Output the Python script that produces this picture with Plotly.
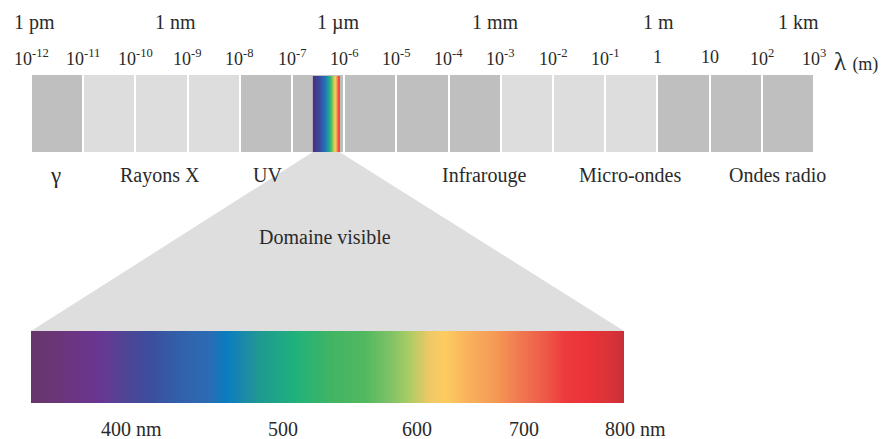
import numpy as np
import plotly.graph_objects as go

# ---------------- data ----------------
exponents = list(range(-12, 4))            # decade boundaries 10^-12 ... 10^3 (m)
exp_labels = ["10<sup>-12</sup>", "10<sup>-11</sup>", "10<sup>-10</sup>", "10<sup>-9</sup>",
              "10<sup>-8</sup>", "10<sup>-7</sup>", "10<sup>-6</sup>", "10<sup>-5</sup>",
              "10<sup>-4</sup>", "10<sup>-3</sup>", "10<sup>-2</sup>", "10<sup>-1</sup>",
              "1", "10", "10<sup>2</sup>", "10<sup>3</sup>"]
cell_shade = [1, 0, 0, 0, 1, 1, 1, 1, 1, 0, 0, 0, 1, 1, 1]   # 1 = dark grey, 0 = light grey
unit_labels = ["1 pm", "1 nm", "1 µm", "1 mm", "1 m", "1 km"]
unit_pos = [-11.94, -9.24, -6.10, -3.11, 0.02, 2.71]
band_labels = ["γ", "Rayons X", "UV", "Infrarouge", "Micro-ondes", "Ondes radio"]
band_pos = [-11.54, -9.53, -7.46, -3.32, -0.52, 2.31]
visible_range = [-6.60, -6.09]             # log10(m) extent of the visible strip in the bar
nm_labels = ["400 nm", "500", "600", "700", "800 nm"]
nm_pos = [0.169, 0.425, 0.651, 0.831, 1.019]  # position along the spectrum strip

# ---------------- styles ----------------
DARK, LIGHT, TRAP = "#bfbfbf", "#dddddd", "#dedede"
TXT = "#2a2a2a"
FONT = "Liberation Serif"
PAGE_W, PAGE_H = 889, 439
OFF = 8                      # default body margin of the page
W, H = PAGE_W - OFF, PAGE_H - OFF
X0, PXU = 31.0, 52.2         # page pixel of 10^-12 and pixels per decade
SP_L, SP_R = 31.0, 624.0

def px2e(px):
    return -12 + (px - X0) / PXU

spec_scale = [
    [0.000, "#66366a"], [0.024, "#6a3672"], [0.066, "#6c3580"], [0.108, "#6a3590"],
    [0.125, "#663a95"], [0.159, "#4f4595"], [0.201, "#3d4d9d"], [0.226, "#3658a5"],
    [0.268, "#3065ad"], [0.302, "#2a6cb4"], [0.330, "#0a7dc0"], [0.361, "#1c8aa6"],
    [0.386, "#1e9a92"], [0.445, "#1fb27c"], [0.504, "#40b464"], [0.563, "#52b860"],
    [0.605, "#7dc265"], [0.639, "#aecc65"], [0.673, "#efc866"], [0.698, "#fdcc60"],
    [0.740, "#f8b05c"], [0.782, "#f59a55"], [0.825, "#f07850"], [0.867, "#ee5a48"],
    [0.900, "#ec3a3c"], [0.943, "#e93238"], [0.976, "#d93338"], [1.000, "#c93038"],
]
top_scale = [
    [0.00, "#4b2f7e"], [0.25, "#3a4a9e"], [0.45, "#1f74bd"], [0.55, "#1b9aa0"],
    [0.65, "#3bb56a"], [0.75, "#a8cc5e"], [0.82, "#f8d060"], [0.88, "#f39a55"],
    [0.93, "#ee5040"], [1.00, "#e8383a"],
]

fig = go.Figure()

# grey decade cells (heatmap so the visible strip can sit on top of it)
fig.add_trace(go.Heatmap(
    x=exponents, y=[75, 152], z=[cell_shade], xgap=2,
    colorscale=[[0, LIGHT], [0.5, LIGHT], [0.5, DARK], [1, DARK]],
    zmin=0, zmax=1, showscale=False, hoverinfo="skip"))

# visible strip inside the bar
n_top = 60
xe_top = np.linspace(visible_range[0], visible_range[1], n_top + 1)
fig.add_trace(go.Heatmap(
    x=xe_top, y=[76, 152], z=[(xe_top[:-1] - xe_top[0]) / (xe_top[-1] - xe_top[0])],
    colorscale=top_scale, zmin=0, zmax=1, showscale=False, hoverinfo="skip"))

# enlarged spectrum
n_sp = 400
xe_sp = np.linspace(0, 1, n_sp + 1)
fig.add_trace(go.Heatmap(
    x=xe_sp, y=[331, 403], z=[(xe_sp[:-1] + xe_sp[1:]) / 2], colorscale=spec_scale,
    zmin=0, zmax=1, showscale=False, hoverinfo="skip", xaxis="x2", yaxis="y"))

# trapezoid linking the visible strip to the enlarged spectrum
fig.add_trace(go.Scatter(
    x=[visible_range[0], visible_range[1], px2e(SP_R), px2e(SP_L), visible_range[0]],
    y=[152, 152, 331, 331, 152], fill="toself", fillcolor=TRAP, mode="lines",
    line=dict(width=0, color=TRAP), hoverinfo="skip", showlegend=False))

ann = []
for lab, p in zip(unit_labels, unit_pos):
    ann.append(dict(x=p, y=22, text=lab, xref="x", yref="y", showarrow=False,
                    font=dict(size=20, color=TXT, family=FONT)))
for lab, e in zip(exp_labels, exponents):
    ann.append(dict(x=e, y=57, text=lab, xref="x", yref="y", showarrow=False,
                    font=dict(size=18, color=TXT, family=FONT)))
ann.append(dict(x=px2e(856), y=61, text="λ <span style='font-size:18px'>(m)</span>",
                xref="x", yref="y", showarrow=False, font=dict(size=25, color=TXT, family=FONT)))
for lab, p in zip(band_labels, band_pos):
    ann.append(dict(x=p, y=175, text=lab, xref="x", yref="y", showarrow=False,
                    font=dict(size=(23 if lab == "γ" else 20), color=TXT, family=FONT)))
ann.append(dict(x=px2e(325), y=237, text="Domaine visible", xref="x", yref="y",
                showarrow=False, font=dict(size=20, color=TXT, family=FONT)))
for lab, p in zip(nm_labels, nm_pos):
    ann.append(dict(x=p, y=429, text=lab, xref="x2", yref="y", showarrow=False,
                    font=dict(size=20, color=TXT, family=FONT)))

fig.update_layout(
    width=W, height=H, margin=dict(l=0, r=0, t=0, b=0),
    paper_bgcolor="white", plot_bgcolor="white", showlegend=False,
    xaxis=dict(range=[px2e(OFF), px2e(PAGE_W)], visible=False, fixedrange=True),
    xaxis2=dict(range=[(OFF - SP_L) / (SP_R - SP_L), (PAGE_W - SP_L) / (SP_R - SP_L)],
                overlaying="x", visible=False, fixedrange=True),
    yaxis=dict(range=[PAGE_H, OFF], visible=False, fixedrange=True),
    annotations=ann,
)

fig.write_html("out.html")
